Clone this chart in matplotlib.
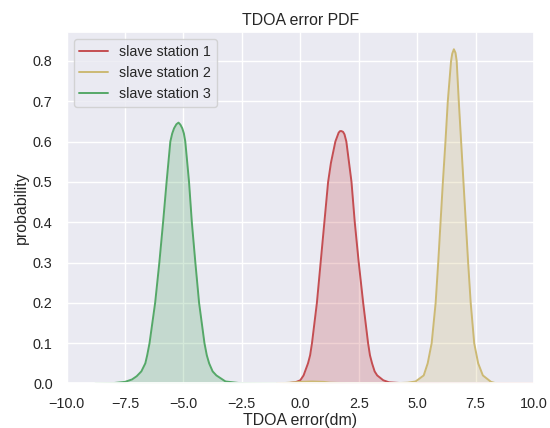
import numpy as np
import matplotlib
matplotlib.use('Agg')
import matplotlib.pyplot as plt
import seaborn as sns

sns.set_theme()
plt.rcParams['font.family'] = ['Liberation Sans', 'DejaVu Sans']

# density curves
x_st1 = [-1.0, -0.5, -0.21, 0.0, 0.14, 0.33, 0.42, 0.50, 0.71, 0.87, 1.03, 1.19, 1.31, 1.50,
         1.64, 1.70, 1.76, 1.83, 1.89, 1.97, 2.08, 2.19, 2.33, 2.50, 2.69, 2.90, 2.98, 3.07,
         3.18, 3.29, 3.55, 3.79, 4.3, 5.0, 6.0, 8.0, 10.0]
y_st1 = [0.0, 0.001, 0.003, 0.008, 0.02, 0.05, 0.07, 0.1, 0.2, 0.3, 0.4, 0.5, 0.547, 0.6,
         0.622, 0.626, 0.626, 0.624, 0.618, 0.6, 0.55, 0.5, 0.4, 0.3, 0.2, 0.1, 0.07, 0.05,
         0.03, 0.02, 0.008, 0.003, 0.001, 0.0005, 0.0003, 0.0002, 0.0001]

x_st2 = [-1.0, -0.44, 0.0, 0.5, 1.0, 1.27, 2.0, 3.0, 4.0, 4.6, 4.93, 5.28, 5.45, 5.62, 5.79,
         5.90, 6.00, 6.10, 6.21, 6.31, 6.45, 6.50, 6.57, 6.64, 6.69, 6.78, 6.88, 6.98, 7.08,
         7.18, 7.29, 7.44, 7.61, 7.81, 8.16, 8.4]
y_st2 = [0.0, 0.002, 0.004, 0.005, 0.004, 0.002, 0.0005, 0.0003, 0.0005, 0.002, 0.005, 0.02,
         0.05, 0.1, 0.2, 0.3, 0.4, 0.5, 0.6, 0.7, 0.8, 0.818, 0.829, 0.82, 0.8, 0.7, 0.6, 0.5,
         0.4, 0.3, 0.2, 0.1, 0.05, 0.02, 0.004, 0.0]

x_st3 = [-8.77, -8.0, -7.5, -7.2, -7.0, -6.8, -6.63, -6.55, -6.45, -6.21, -6.03, -5.87,
         -5.72, -5.56, -5.48, -5.4, -5.3, -5.21, -5.13, -5.05, -4.98, -4.92, -4.76, -4.64,
         -4.49, -4.33, -4.10, -4.0, -3.90, -3.75, -3.59, -3.2, -2.6, -2.0, -1.0]
y_st3 = [0.0, 0.001, 0.004, 0.01, 0.018, 0.03, 0.05, 0.07, 0.1, 0.2, 0.3, 0.4,
         0.5, 0.6, 0.62, 0.633, 0.643, 0.647, 0.642, 0.633, 0.62, 0.6, 0.5, 0.4,
         0.3, 0.2, 0.1, 0.07, 0.05, 0.03, 0.02, 0.005, 0.001, 0.0005, 0.0]

labels = ['slave station 1', 'slave station 2', 'slave station 3']
colors = ['r', 'y', 'g']

fig = plt.figure(figsize=(5.5, 4.28), dpi=100)
ax = fig.add_subplot(111)
fig.subplots_adjust(left=0.121, right=0.971, top=0.9245, bottom=0.104)

for xs, ys, lab, c in zip([x_st1, x_st2, x_st3], [y_st1, y_st2, y_st3], labels, colors):
    ax.plot(xs, ys, color=c, lw=1.4, label=lab)
    ax.fill_between(xs, ys, color=c, alpha=0.25, lw=0)

ax.set_xlim(-10, 10)
ax.set_ylim(0, 0.871)
ax.tick_params(labelsize=10.4, pad=4)
ax.set_title('TDOA error PDF', fontsize=11.4, pad=5)
ax.set_xlabel('TDOA error(dm)', fontsize=11.4, labelpad=1)
ax.set_ylabel('probability', fontsize=11.4, labelpad=3)
ax.legend(loc='upper left', fontsize=10.3)

plt.savefig('out.png')
